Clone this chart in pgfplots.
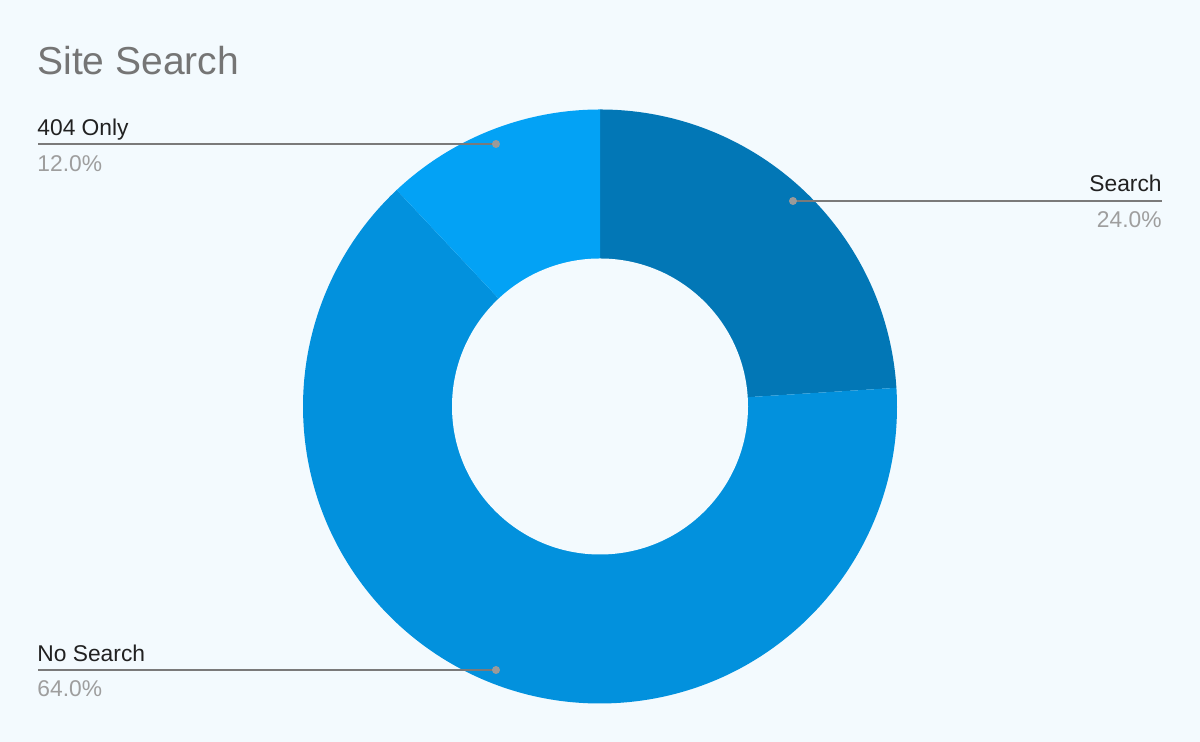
\documentclass[border=0pt]{standalone}
\usepackage{pgfplots}
\pgfplotsset{compat=1.18}
\usepackage{pgfplotstable}
\usepackage{fontspec}
\setmainfont{Liberation Sans}
\definecolor{bg}{HTML}{F3FAFE}
\definecolor{cS}{HTML}{0277B6}
\definecolor{cN}{HTML}{0291DD}
\definecolor{cO}{HTML}{03A2F5}
\definecolor{ttl}{HTML}{757575}
\definecolor{lbl}{HTML}{212121}
\definecolor{pct}{HTML}{9E9E9E}
\definecolor{ln}{HTML}{7A7A7A}
\definecolor{dot}{HTML}{9A9A9A}
% share (%) of each slice, clockwise from 12 o'clock
\pgfplotstableread{
label    value
Search   24.0
NoSearch 64.0
Only404  12.0
}\sitedata
\pgfplotstablegetelem{0}{value}\of\sitedata\let\vS\pgfplotsretval
\pgfplotstablegetelem{1}{value}\of\sitedata\let\vN\pgfplotsretval
\pgfplotstablegetelem{2}{value}\of\sitedata\let\vO\pgfplotsretval
\pgfmathsetmacro\aS{90-3.6*\vS}
\pgfmathsetmacro\aN{\aS-3.6*\vN}
\pgfmathsetmacro\aO{\aN-3.6*\vO}
\newcommand\lf{\fontsize{11.4pt}{13.5pt}\selectfont}
\begin{document}
\begin{tikzpicture}
\begin{axis}[
  x=0.5pt, y=0.5pt,
  xmin=0, xmax=1200, ymin=0, ymax=742,
  hide axis, clip=false,
  scale only axis,
]
\fill[bg] (axis cs:0,0) rectangle (axis cs:1200,742);
\coordinate (c) at (axis cs:600,335.5);
\fill[cS] (c) -- ++(90:148.5pt) arc[start angle=90, end angle=\aS, radius=148.5pt] -- cycle;
\fill[cN] (c) -- ++(\aS:148.5pt) arc[start angle=\aS, end angle=\aN, radius=148.5pt] -- cycle;
\fill[cO] (c) -- ++(\aN:148.5pt) arc[start angle=\aN, end angle=\aO, radius=148.5pt] -- cycle;
\fill[bg] (c) circle[radius=74pt];
% title
\node[anchor=base west, inner sep=0pt, text=ttl, font=\fontsize{19.5pt}{23pt}\selectfont] at (axis cs:37,667) {Site Search};
% 404 Only
\draw[ln, line width=1pt] (axis cs:38,598) -- (axis cs:496,598);
\fill[dot] (axis cs:496,598) circle[radius=2pt];
\node[anchor=base west, inner sep=0pt, text=lbl, font=\lf] at (axis cs:37,606) {404 Only};
\node[anchor=base west, inner sep=0pt, text=pct, font=\lf] at (axis cs:37,570) {12.0\%};
% Search
\draw[ln, line width=1pt] (axis cs:793,541) -- (axis cs:1162,541);
\fill[dot] (axis cs:793,541) circle[radius=2pt];
\node[anchor=base east, inner sep=0pt, text=lbl, font=\lf] at (axis cs:1162,550) {Search};
\node[anchor=base east, inner sep=0pt, text=pct, font=\lf] at (axis cs:1162,514) {24.0\%};
% No Search
\draw[ln, line width=1pt] (axis cs:38,72) -- (axis cs:496,72);
\fill[dot] (axis cs:496,72) circle[radius=2pt];
\node[anchor=base west, inner sep=0pt, text=lbl, font=\lf] at (axis cs:37,80) {No Search};
\node[anchor=base west, inner sep=0pt, text=pct, font=\lf] at (axis cs:37,45) {64.0\%};
\end{axis}
\end{tikzpicture}
\end{document}
